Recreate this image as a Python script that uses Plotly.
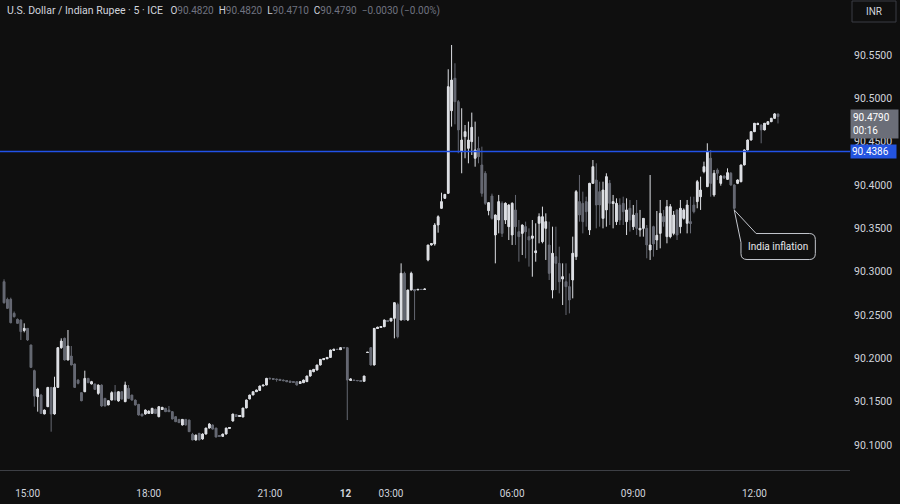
import plotly.graph_objects as go

# ---- data (5-minute USD/INR candles) ----
OPEN = [
    90.2884, 90.2681, 90.2681, 90.2519, 90.2450, 90.2442, 90.2327, 90.2346, 90.2154, 90.1858,
    90.1558, 90.1577, 90.1358, 90.1442, 90.1665, 90.1358, 90.1665, 90.2123, 90.2231, 90.1981,
    90.2027, 90.1935, 90.1750, 90.1604, 90.1615, 90.1769, 90.1704, 90.1704, 90.1596, 90.1692,
    90.1538, 90.1462, 90.1519, 90.1610, 90.1508, 90.1615, 90.1500, 90.1654, 90.1577, 90.1519,
    90.1469, 90.1358, 90.1358, 90.1365, 90.1365, 90.1412, 90.1327, 90.1412, 90.1423, 90.1404,
    90.1385, 90.1327, 90.1296, 90.1231, 90.1296, 90.1288, 90.1123, 90.1058, 90.1135, 90.1070,
    90.1127, 90.1196, 90.1230, 90.1196, 90.1110, 90.1100, 90.1127, 90.1196, 90.1277, 90.1350,
    90.1330, 90.1323, 90.1427, 90.1531, 90.1577, 90.1615, 90.1630, 90.1681, 90.1692, 90.1769,
    90.1765, 90.1760, 90.1758, 90.1750, 90.1742, 90.1738, 90.1731, 90.1731, 90.1712, 90.1719,
    90.1731, 90.1796, 90.1846, 90.1865, 90.1923, 90.1985, 90.1995, 90.2011, 90.2096, 90.2105,
    90.2100, 90.2123, 90.2123, 90.1750, 90.1750, 90.1745, 90.1742, 90.1735, 90.2069, 90.2123,
    90.1923, 90.2346, 90.2358, 90.2365, 90.2435, 90.2430, 90.2462, 90.2620, 90.2442, 90.2981,
    90.2442, 90.2788, 90.2790, 90.2790, 90.2796, 90.2796, 90.3135, 90.3308, 90.3320, 90.3538,
    90.3731, 90.3846, 90.3904, 90.4857, 90.5231, 90.4961, 90.4385, 90.4558, 90.4423, 90.4500,
    90.4308, 90.4420, 90.4231, 90.4135, 90.3704, 90.3873, 90.3423, 90.3596, 90.3789, 90.3596,
    90.3519, 90.3423, 90.3712, 90.3461, 90.3442, 90.3519, 90.3404, 90.3385, 90.3220, 90.3558,
    90.3346, 90.3500, 90.3308, 90.2788, 90.3173, 90.3096, 90.2915, 90.2884, 90.2827, 90.2904,
    90.3173, 90.3808, 90.3788, 90.3808, 90.3481, 90.4019, 90.4058, 90.3923, 90.3615, 90.3712,
    90.4019, 90.3788, 90.3577, 90.3769, 90.3788, 90.3577, 90.3731, 90.3519, 90.3673, 90.3481,
    90.3500, 90.3500, 90.3250, 90.3519, 90.3365, 90.3442, 90.3635, 90.3404, 90.3404, 90.3442,
    90.3712, 90.3519, 90.3615, 90.3558, 90.3577, 90.3769, 90.3808, 90.3865, 90.4154, 90.3981,
    90.4308, 90.3885, 90.4173, 90.4019, 90.4104, 90.4065, 90.4135, 90.4000, 90.4019, 90.4038,
    90.4231, 90.4404, 90.4519, 90.4615, 90.4700, 90.4692, 90.4635, 90.4700, 90.4730, 90.4769,
    90.4820,
]
HIGH = [
    90.2912, 90.2700, 90.2700, 90.2540, 90.2460, 90.2450, 90.2404, 90.2350, 90.2160, 90.1870,
    90.1660, 90.1590, 90.1410, 90.1670, 90.1670, 90.1788, 90.2130, 90.2231, 90.2240, 90.2327,
    90.2142, 90.1940, 90.1760, 90.1610, 90.1858, 90.1775, 90.1740, 90.1710, 90.1700, 90.1700,
    90.1545, 90.1515, 90.1620, 90.1692, 90.1620, 90.1620, 90.1731, 90.1692, 90.1580, 90.1525,
    90.1475, 90.1362, 90.1410, 90.1400, 90.1430, 90.1420, 90.1450, 90.1440, 90.1430, 90.1450,
    90.1390, 90.1330, 90.1300, 90.1300, 90.1300, 90.1295, 90.1140, 90.1120, 90.1140, 90.1135,
    90.1200, 90.1254, 90.1240, 90.1200, 90.1115, 90.1130, 90.1200, 90.1205, 90.1360, 90.1355,
    90.1345, 90.1430, 90.1525, 90.1580, 90.1620, 90.1640, 90.1685, 90.1695, 90.1775, 90.1780,
    90.1772, 90.1765, 90.1762, 90.1755, 90.1748, 90.1742, 90.1735, 90.1735, 90.1735, 90.1755,
    90.1800, 90.1865, 90.1878, 90.1928, 90.1992, 90.2000, 90.2015, 90.2100, 90.2108, 90.2110,
    90.2128, 90.2128, 90.2128, 90.1768, 90.1752, 90.1748, 90.1745, 90.1800, 90.2072, 90.2128,
    90.2350, 90.2365, 90.2368, 90.2448, 90.2442, 90.2466, 90.2645, 90.2642, 90.3096, 90.3000,
    90.2792, 90.3000, 90.2800, 90.2800, 90.2800, 90.2805, 90.3310, 90.3325, 90.3560, 90.3650,
    90.3911, 90.3895, 90.5335, 90.5615, 90.5404, 90.4980, 90.4885, 90.4692, 90.4731, 90.4835,
    90.4731, 90.4558, 90.4442, 90.4160, 90.3800, 90.3900, 90.3660, 90.3885, 90.3811, 90.3800,
    90.3780, 90.3800, 90.3885, 90.3596, 90.3545, 90.3577, 90.3500, 90.3596, 90.3558, 90.3673,
    90.3750, 90.3673, 90.3577, 90.3519, 90.3519, 90.3288, 90.3096, 90.3096, 90.2980, 90.3404,
    90.3942, 90.4115, 90.3923, 90.3865, 90.4025, 90.4288, 90.4250, 90.4038, 90.4038, 90.4135,
    90.4058, 90.3885, 90.3846, 90.3846, 90.3865, 90.3846, 90.3827, 90.3769, 90.3827, 90.3712,
    90.3615, 90.3538, 90.4115, 90.3530, 90.3700, 90.3827, 90.3712, 90.3827, 90.3780, 90.3700,
    90.3720, 90.3827, 90.3730, 90.3827, 90.3865, 90.3865, 90.4058, 90.4096, 90.4269, 90.4481,
    90.4404, 90.4173, 90.4192, 90.4115, 90.4110, 90.4192, 90.4150, 90.4010, 90.4065, 90.4235,
    90.4410, 90.4525, 90.4620, 90.4715, 90.4720, 90.4700, 90.4715, 90.4735, 90.4775, 90.4830,
    90.4820,
]
LOW = [
    90.2630, 90.2570, 90.2404, 90.2470, 90.2400, 90.2212, 90.2300, 90.2200, 90.1890, 90.1442,
    90.1385, 90.1360, 90.1355, 90.1440, 90.1154, 90.1350, 90.1660, 90.2110, 90.1975, 90.1975,
    90.1920, 90.1660, 90.1700, 90.1505, 90.1610, 90.1715, 90.1700, 90.1640, 90.1580, 90.1440,
    90.1445, 90.1460, 90.1515, 90.1515, 90.1500, 90.1525, 90.1495, 90.1530, 90.1510, 90.1455,
    90.1340, 90.1330, 90.1350, 90.1360, 90.1360, 90.1360, 90.1320, 90.1410, 90.1380, 90.1380,
    90.1295, 90.1265, 90.1255, 90.1225, 90.1225, 90.1150, 90.1055, 90.1050, 90.1055, 90.1060,
    90.1120, 90.1190, 90.1180, 90.1088, 90.1095, 90.1095, 90.1120, 90.1190, 90.1270, 90.1325,
    90.1325, 90.1320, 90.1425, 90.1528, 90.1575, 90.1612, 90.1628, 90.1678, 90.1690, 90.1755,
    90.1750, 90.1731, 90.1740, 90.1738, 90.1728, 90.1722, 90.1718, 90.1688, 90.1708, 90.1715,
    90.1728, 90.1788, 90.1840, 90.1860, 90.1918, 90.1980, 90.1990, 90.2008, 90.2092, 90.2100,
    90.2098, 90.2118, 90.1288, 90.1745, 90.1740, 90.1738, 90.1732, 90.1732, 90.2066, 90.1918,
    90.1918, 90.2340, 90.2350, 90.2360, 90.2420, 90.2425, 90.2231, 90.2231, 90.2438, 90.2438,
    90.2430, 90.2785, 90.2442, 90.2785, 90.2790, 90.2790, 90.3120, 90.3300, 90.3300, 90.3450,
    90.3725, 90.3840, 90.3900, 90.4673, 90.4700, 90.4366, 90.4135, 90.4308, 90.4250, 90.4346,
    90.4211, 90.4250, 90.3865, 90.3770, 90.3650, 90.3600, 90.3096, 90.3442, 90.3400, 90.3550,
    90.3365, 90.3308, 90.3308, 90.3115, 90.3192, 90.3154, 90.3058, 90.2942, 90.3115, 90.3327,
    90.3327, 90.3135, 90.2904, 90.2692, 90.2788, 90.2750, 90.2615, 90.2500, 90.2519, 90.2692,
    90.3135, 90.3577, 90.3442, 90.3519, 90.3423, 90.4015, 90.3500, 90.3519, 90.3500, 90.3519,
    90.3538, 90.3500, 90.3538, 90.3538, 90.3538, 90.3423, 90.3462, 90.3481, 90.3423, 90.3404,
    90.3404, 90.3154, 90.3135, 90.3173, 90.3250, 90.3269, 90.3519, 90.3327, 90.3385, 90.3420,
    90.3365, 90.3442, 90.3600, 90.3442, 90.3442, 90.3673, 90.3731, 90.3712, 90.4135, 90.3975,
    90.3865, 90.3865, 90.4058, 90.3992, 90.4070, 90.4058, 90.3990, 90.3712, 90.4010, 90.4030,
    90.4225, 90.4400, 90.4510, 90.4610, 90.4690, 90.4481, 90.4630, 90.4695, 90.4725, 90.4765,
    90.4710,
]
CLOSE = [
    90.2642, 90.2577, 90.2411, 90.2481, 90.2404, 90.2308, 90.2346, 90.2212, 90.1896, 90.1565,
    90.1646, 90.1365, 90.1404, 90.1665, 90.1358, 90.1665, 90.2123, 90.2200, 90.1981, 90.2142,
    90.1923, 90.1665, 90.1712, 90.1511, 90.1769, 90.1719, 90.1731, 90.1642, 90.1692, 90.1450,
    90.1450, 90.1511, 90.1604, 90.1520, 90.1615, 90.1530, 90.1692, 90.1538, 90.1519, 90.1462,
    90.1346, 90.1335, 90.1404, 90.1392, 90.1423, 90.1365, 90.1442, 90.1435, 90.1385, 90.1385,
    90.1300, 90.1269, 90.1258, 90.1296, 90.1231, 90.1154, 90.1058, 90.1115, 90.1058, 90.1127,
    90.1196, 90.1242, 90.1184, 90.1092, 90.1100, 90.1127, 90.1196, 90.1200, 90.1358, 90.1330,
    90.1340, 90.1427, 90.1519, 90.1577, 90.1615, 90.1635, 90.1681, 90.1692, 90.1769, 90.1765,
    90.1760, 90.1758, 90.1745, 90.1742, 90.1731, 90.1727, 90.1723, 90.1692, 90.1731, 90.1750,
    90.1796, 90.1862, 90.1873, 90.1923, 90.1988, 90.1995, 90.2011, 90.2096, 90.2105, 90.2102,
    90.2123, 90.2121, 90.1750, 90.1762, 90.1745, 90.1742, 90.1735, 90.1796, 90.2070, 90.1923,
    90.2346, 90.2358, 90.2365, 90.2442, 90.2428, 90.2462, 90.2642, 90.2250, 90.2981, 90.2442,
    90.2788, 90.2981, 90.2780, 90.2796, 90.2794, 90.2800, 90.3308, 90.3320, 90.3538, 90.3634,
    90.3808, 90.3892, 90.5134, 90.5211, 90.4961, 90.4635, 90.4519, 90.4615, 90.4519, 90.4665,
    90.4404, 90.4327, 90.3904, 90.3789, 90.3796, 90.3615, 90.3654, 90.3808, 90.3442, 90.3789,
    90.3769, 90.3789, 90.3519, 90.3404, 90.3538, 90.3461, 90.3365, 90.3412, 90.3240, 90.3634,
    90.3634, 90.3577, 90.2981, 90.3212, 90.3096, 90.2884, 90.2942, 90.2827, 90.2673, 90.3212,
    90.3923, 90.3654, 90.3577, 90.3692, 90.4019, 90.4211, 90.3769, 90.3769, 90.3942, 90.4096,
    90.3788, 90.3808, 90.3788, 90.3596, 90.3692, 90.3712, 90.3596, 90.3654, 90.3500, 90.3500,
    90.3615, 90.3308, 90.3308, 90.3320, 90.3420, 90.3673, 90.3577, 90.3750, 90.3750, 90.3654,
    90.3423, 90.3731, 90.3712, 90.3769, 90.3558, 90.3692, 90.4038, 90.3942, 90.4211, 90.4385,
    90.4019, 90.4135, 90.4135, 90.4104, 90.4080, 90.4142, 90.4000, 90.3731, 90.4058, 90.4231,
    90.4404, 90.4519, 90.4615, 90.4712, 90.4705, 90.4635, 90.4712, 90.4730, 90.4769, 90.4820,
    90.4790,
]
FIRST_BAR = -7                      # bars before the 15:00 candle
TICK_POS = [0, 36, 72, 94.5, 108, 144, 180, 216]
TICK_TEXT = ["15:00", "18:00", "21:00", "<b>12</b>", "03:00", "06:00", "09:00", "12:00"]
Y_TICKS = [90.10, 90.15, 90.20, 90.25, 90.30, 90.35, 90.40, 90.45, 90.50, 90.55]
LINE_PRICE = 90.4386
EVENT_BAR = 210
EVENT_TEXT = "India inflation"
COUNTDOWN = "00:16"

BG = "#0f0f0f"
UP = "#dcdee3"
DOWN = "#656872"
BLUE = "#2152e8"
FONT = "Roboto"

bars = [FIRST_BAR + k for k in range(len(OPEN))]
body_base = [min(o, c) for o, c in zip(OPEN, CLOSE)]
body_len = [abs(c - o) for o, c in zip(OPEN, CLOSE)]
body_col = [UP if c >= o else DOWN for o, c in zip(OPEN, CLOSE)]

fig = go.Figure()
# horizontal price line (drawn first, under the candles)
fig.add_trace(go.Scatter(
    x=[-20, 260], y=[LINE_PRICE, LINE_PRICE], mode="lines",
    line=dict(color=BLUE, width=1.6), showlegend=False, hoverinfo="skip",
))
# wicks (and 1px bodies for flat candles)
fig.add_trace(go.Candlestick(
    x=bars, open=OPEN, high=HIGH, low=LOW, close=CLOSE,
    increasing=dict(line=dict(color=UP, width=1), fillcolor=UP),
    decreasing=dict(line=dict(color=DOWN, width=1), fillcolor=DOWN),
    whiskerwidth=0, showlegend=False, hoverinfo="skip",
))
# full-width candle bodies
fig.add_trace(go.Bar(
    x=bars, base=body_base, y=body_len, width=0.72,
    marker=dict(color=body_col, line=dict(width=0)),
    showlegend=False, hoverinfo="skip",
))

# callout anchored on the event candle's low
k = bars.index(EVENT_BAR)
tx, ty = EVENT_BAR, LOW[k]
bx0, bx1 = tx + 2.0, tx + 24.1
by0, by1 = ty - 0.0572, ty - 0.0272
rx, ry = 1.8, 0.0069
path = (f"M {tx},{ty} L {tx + 6.5},{by1} L {bx1 - rx},{by1} "
        f"Q {bx1},{by1} {bx1},{by1 - ry} L {bx1},{by0 + ry} "
        f"Q {bx1},{by0} {bx1 - rx},{by0} L {bx0 + rx},{by0} "
        f"Q {bx0},{by0} {bx0},{by0 + ry} L {bx0},{ty - 0.0376} Z")
fig.add_shape(type="path", path=path, xref="x", yref="y",
              line=dict(color="#c4c7ce", width=1), fillcolor=BG)
fig.add_annotation(x=(bx0 + bx1) / 2, y=(by0 + by1) / 2, xref="x", yref="y",
                   text=EVENT_TEXT, showarrow=False,
                   font=dict(family=FONT, size=10, color="#e6e7ea"))

# header
val = "#6f7380"
lab = "#d1d4dc"
o, h, l, c = OPEN[-1], HIGH[-1], LOW[-1], CLOSE[-1]
chg = c - o
sp = "&nbsp;"
header = (f"<span style='color:{lab};font-size:10.5px'>U.S. Dollar / Indian Rupee · 5 · ICE</span>{sp}{sp}{sp}"
          f"<span style='color:{lab}'>O</span><span style='color:{val}'>{o:.4f}</span>{sp}{sp}"
          f"<span style='color:{lab}'>H</span><span style='color:{val}'>{h:.4f}</span>{sp}{sp}"
          f"<span style='color:{lab}'>L</span><span style='color:{val}'>{l:.4f}</span>{sp}{sp}"
          f"<span style='color:{lab}'>C</span><span style='color:{val}'>{c:.4f}</span>{sp}{sp}"
          f"<span style='color:{val}'>−{abs(chg):.4f} (−{abs(chg) / o * 100:.2f}%)</span>")
fig.add_annotation(xref="paper", yref="paper", x=5 / 850, y=1 - 11 / 470,
                   xanchor="left", yanchor="middle", text=header, showarrow=False,
                   font=dict(family=FONT, size=10, color=lab))

# right-side price labels
fig.add_annotation(xref="paper", yref="y", x=1.0, y=c, xanchor="left", yanchor="top",
                   yshift=8, xshift=0, text=f"{c:.4f}<br>{COUNTDOWN}", showarrow=False,
                   align="left", bgcolor="#6b6e78", width=43, borderpad=2,
                   font=dict(family=FONT, size=10, color="#ffffff"))
fig.add_annotation(xref="paper", yref="y", x=1.0, y=LINE_PRICE, xanchor="left",
                   yanchor="middle", xshift=0, text=f"{LINE_PRICE:.4f}", showarrow=False,
                   align="left", bgcolor="#2454e0", width=43, borderpad=1,
                   font=dict(family=FONT, size=10, color="#ffffff"))
# currency button
fig.add_shape(type="rect", xref="paper", yref="paper",
              x0=852 / 850, x1=896 / 850, y0=1 - 22 / 470, y1=1 - 1 / 470,
              line=dict(color="#3a3d45", width=1), fillcolor=BG)
fig.add_annotation(xref="paper", yref="paper", x=874 / 850, y=1 - 11.5 / 470,
                   xanchor="center", yanchor="middle", text="INR", showarrow=False,
                   font=dict(family=FONT, size=10, color="#d1d4dc"))

fig.update_layout(
    width=900, height=504, margin=dict(l=0, r=50, t=0, b=34, autoexpand=False),
    paper_bgcolor=BG, plot_bgcolor=BG, showlegend=False, barmode="overlay",
    font=dict(family=FONT, color="#d1d4dc"),
    xaxis=dict(range=[-8.2, 244.4], rangeslider=dict(visible=False),
               tickvals=TICK_POS, ticktext=TICK_TEXT, showgrid=False, zeroline=False,
               showline=True, linecolor="#3d3f45", linewidth=1, ticks="",
               ticklabelstandoff=14, tickfont=dict(family=FONT, size=10, color="#d1d4dc")),
    yaxis=dict(range=[90.0712, 90.6134], side="right", tickvals=Y_TICKS,
               ticktext=[f"{v:.4f}" for v in Y_TICKS], showgrid=False, zeroline=False,
               showline=False, ticks="", ticklabelstandoff=3,
               tickfont=dict(family=FONT, size=10.5, color="#d1d4dc")),
)

fig.write_html("out.html", config={"displayModeBar": False},
               post_script="document.body.style.margin='0';document.body.style.overflow='hidden';")
